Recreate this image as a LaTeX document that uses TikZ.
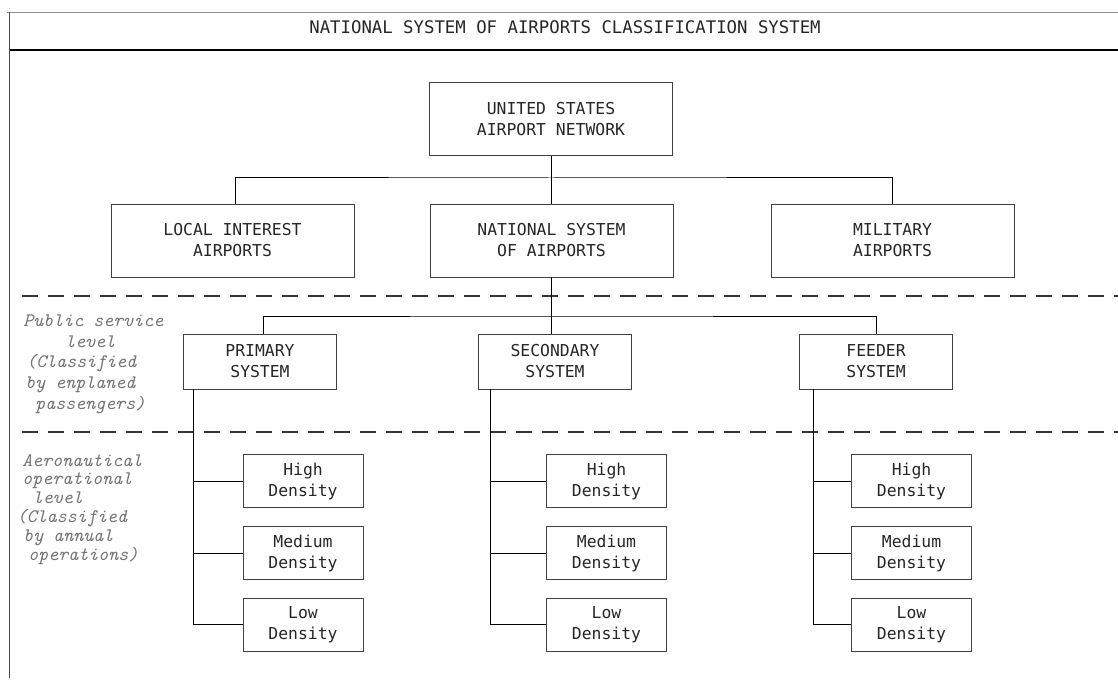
\documentclass[tikz,border=0pt]{standalone}
\usepackage{fontspec}
\newfontfamily\boxfont{DejaVu Sans Mono}
\begin{document}
\begin{tikzpicture}[x=0.75pt,y=-0.75pt,
  box/.style={draw=black!75, line width=0.6pt, align=center, inner sep=0pt,
    font=\boxfont\fontsize{12.3}{15.75}\selectfont, text=black!85},
  bigbox/.style={box, minimum width=182.25pt, minimum height=54.75pt},
  sysbox/.style={box, minimum width=114.75pt, minimum height=41.25pt},
  denbox/.style={box, minimum width=90pt, minimum height=39.75pt},
  conn/.style={line width=0.75pt, black},
  dashline/.style={line width=0.9pt, black!80, dash pattern=on 12pt off 7.5pt},
  lbl/.style={font=\ttfamily\itshape\fontsize{14.3}{15.4}\selectfont, text=black!55,
    align=left, inner sep=0pt, anchor=north west}]
\useasboundingbox (0,0) rectangle (1118,681);
\fill[white] (0,0) rectangle (1118,681);
% frame
\draw[black!45, line width=0.6pt] (7,12) -- (1118,12);
\draw[black!70, line width=0.75pt] (9,12) -- (9,678);
\draw[black, line width=1.2pt] (10,50) -- (1118,50);
\node[font=\boxfont\fontsize{13}{15}\selectfont, text=black!85] (title) at (565,27)
  {NATIONAL SYSTEM OF AIRPORTS CLASSIFICATION SYSTEM};
% level separators
\draw[dashline] (22,296) -- (1118,296);
\draw[dashline] (22,432) -- (1118,432);
% side labels
\node[lbl] (pub) at (23,315) {Public service\\\hspace*{31.5pt}level\\\hspace*{2.25pt}(Classified\\\hspace*{1.5pt}by enplaned\\\hspace*{9pt}passengers)};
\node[lbl, font=\ttfamily\itshape\fontsize{14.3}{14.1}\selectfont] (aero) at (10,454) {\hspace*{9pt}Aeronautical\\\hspace*{9pt}operational\\\hspace*{17pt}level\\\hspace*{5pt}(Classified\\\hspace*{9.75pt}by annual\\\hspace*{13.5pt}operations)};
% top levels
\node[bigbox] (us) at (551,119) {UNITED STATES\\AIRPORT NETWORK};
\node[bigbox] (local) at (232.5,240.5) {LOCAL INTEREST\\AIRPORTS};
\node[bigbox] (nsa) at (551.5,240.5) {NATIONAL SYSTEM\\OF AIRPORTS};
\node[bigbox] (mil) at (892.5,240.5) {MILITARY\\AIRPORTS};
% systems
\node[sysbox] (prim) at (260,361.5) {PRIMARY\\SYSTEM};
\node[sysbox] (sec) at (555,361.5) {SECONDARY\\SYSTEM};
\node[sysbox] (feed) at (876,361.5) {FEEDER\\SYSTEM};
% density boxes
\node[denbox] (ph) at (303,481) {High\\Density};
\node[denbox] (pm) at (303,553) {Medium\\Density};
\node[denbox] (pl) at (303,624.5) {Low\\Density};
\node[denbox] (sh) at (606.5,481) {High\\Density};
\node[denbox] (sm) at (606.5,553) {Medium\\Density};
\node[denbox] (sl) at (606.5,624.5) {Low\\Density};
\node[denbox] (fh) at (911.5,481) {High\\Density};
\node[denbox] (fm) at (911.5,553) {Medium\\Density};
\node[denbox] (fl) at (911.5,624.5) {Low\\Density};
% connectors
\coordinate (j1) at (551,178);
\draw[conn] (us.south) -- (us.south |- nsa.north);
\draw[conn] ([xshift=2.6pt]local.north) |- (j1) -| (mil.north);
\coordinate (j2) at (553,316);
\draw[conn] (nsa.south) -- (nsa.south |- sec.north);
\draw[conn] ([xshift=2.25pt]prim.north) |- (j2) -| (feed.north);
\coordinate (pv) at ([xshift=-50.25pt]prim.south);
\coordinate (sv) at ([xshift=-48.75pt]sec.south);
\coordinate (fv) at ([xshift=-47.25pt]feed.south);
\draw[conn] (pv) |- (ph.west);
\draw[conn] (pv) |- (pm.west);
\draw[conn] (pv) |- (pl.west);
\draw[conn] (sv) |- (sh.west);
\draw[conn] (sv) |- (sm.west);
\draw[conn] (sv) |- (sl.west);
\draw[conn] (fv) |- (fh.west);
\draw[conn] (fv) |- (fm.west);
\draw[conn] (fv) |- (fl.west);
\end{tikzpicture}
\end{document}
